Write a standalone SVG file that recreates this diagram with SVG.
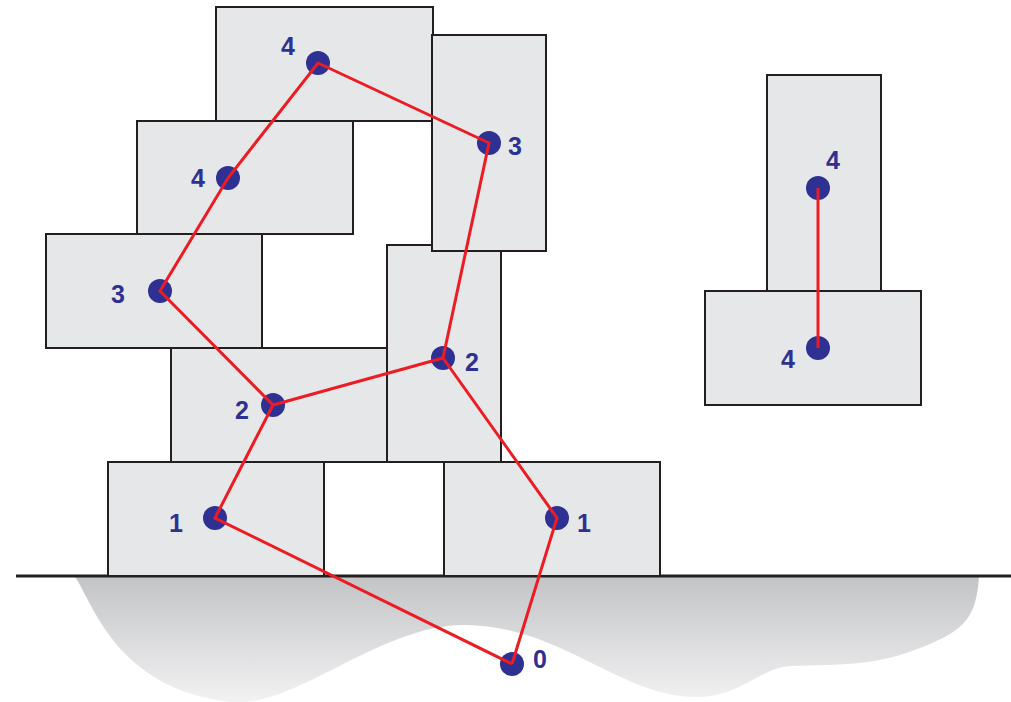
<svg xmlns="http://www.w3.org/2000/svg" width="1011" height="702" viewBox="0 0 1011 702">
<style>
.blk{fill:#e6e7e8;stroke:#231f20;stroke-width:2}
.dot{fill:#2e3192}
.lbl{font-family:"Liberation Sans",Arial,sans-serif;font-weight:bold;font-size:25px;fill:#2e3192;text-anchor:middle}
.con{fill:none;stroke:#ed1c24;stroke-width:3;stroke-linejoin:miter}
</style>
<defs>
<linearGradient id="gnd" x1="0" y1="0" x2="0" y2="1">
<stop offset="0" stop-color="#c3c4c6"/>
<stop offset="1" stop-color="#f2f2f3"/>
</linearGradient>
</defs>
<rect width="1011" height="702" fill="#ffffff"/>
<g id="ground">
<path d="M75 577 C92 600,115 690,232 702 C295 708,380 625,464 625 C560 625,620 697,696 697 C740 697,760 668,790 666 C830 664,870 668,920 648 C968 630,976 615,979 577 Z" fill="url(#gnd)"/>
<line x1="16" y1="576" x2="1011" y2="576" stroke="#231f20" stroke-width="3"/>
</g>
<g id="block-A"><rect class="blk" x="216" y="7" width="217" height="114"/></g>
<g id="block-C"><rect class="blk" x="137" y="121" width="216" height="113"/></g>
<g id="block-D"><rect class="blk" x="46" y="234" width="216" height="114"/></g>
<g id="block-F"><rect class="blk" x="387" y="245" width="114" height="217"/></g>
<g id="block-B"><rect class="blk" x="432" y="35" width="114" height="216"/></g>
<g id="block-E"><rect class="blk" x="171" y="348" width="216" height="114"/></g>
<g id="block-G"><rect class="blk" x="108" y="462" width="216" height="114"/></g>
<g id="block-H"><rect class="blk" x="444" y="462" width="216" height="114"/></g>
<g id="block-R1"><rect class="blk" x="767" y="75" width="114" height="216"/></g>
<g id="block-R2"><rect class="blk" x="705" y="291" width="216" height="114"/></g>
<g id="nodes">
<g id="n0"><circle class="dot" cx="512" cy="664" r="12"/><text class="lbl" x="540" y="668">0</text></g>
<g id="nG1"><circle class="dot" cx="215" cy="518" r="12"/><text class="lbl" x="176" y="532">1</text></g>
<g id="nH1"><circle class="dot" cx="557" cy="518" r="12"/><text class="lbl" x="584" y="532">1</text></g>
<g id="nE2"><circle class="dot" cx="273" cy="405" r="12"/><text class="lbl" x="242" y="419">2</text></g>
<g id="nF2"><circle class="dot" cx="443" cy="358" r="12"/><text class="lbl" x="472" y="371">2</text></g>
<g id="nD3"><circle class="dot" cx="160" cy="291" r="12"/><text class="lbl" x="118" y="303">3</text></g>
<g id="nB3"><circle class="dot" cx="489" cy="143" r="12"/><text class="lbl" x="515" y="155">3</text></g>
<g id="nC4"><circle class="dot" cx="228" cy="178" r="12"/><text class="lbl" x="198" y="187">4</text></g>
<g id="nA4"><circle class="dot" cx="318" cy="63" r="12"/><text class="lbl" x="288" y="55">4</text></g>
<g id="nR4a"><circle class="dot" cx="818" cy="188" r="12"/><text class="lbl" x="833" y="169">4</text></g>
<g id="nR4b"><circle class="dot" cx="818" cy="348" r="12"/><text class="lbl" x="788" y="368">4</text></g>
</g>
<g id="connectors">
<polyline class="con" points="512,664 215,518 273,405 160,291 228,178 318,63 489,143 443,358 557,518 512,664"/>
<line class="con" x1="273" y1="405" x2="443" y2="358"/>
<line class="con" x1="818" y1="188" x2="818" y2="348"/>
</g>
</svg>
